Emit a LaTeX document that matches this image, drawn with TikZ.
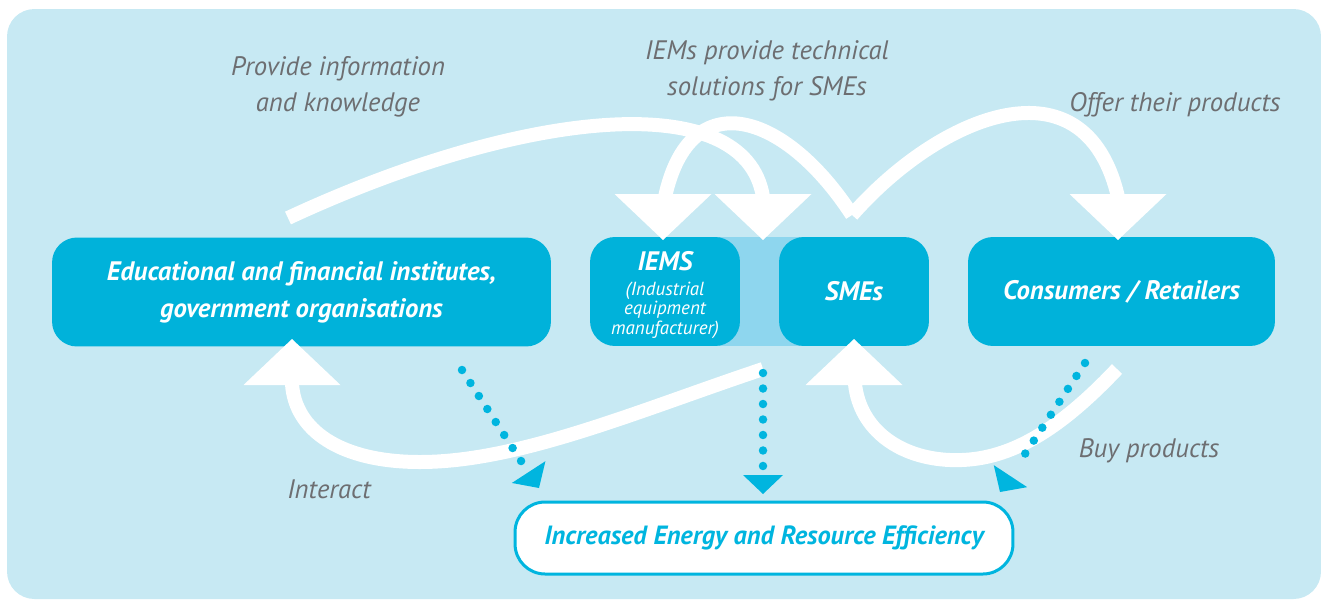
\documentclass[tikz,border=0pt]{standalone}
\usepackage{fontspec}
\setmainfont{PT Sans}
\usetikzlibrary{arrows.meta}
\definecolor{bgblue}{HTML}{C7E9F3}
\definecolor{boxblue}{HTML}{00B2DA}
\definecolor{bandblue}{HTML}{8ED6EE}
\definecolor{labgray}{HTML}{6D6E71}
\definecolor{effcyan}{HTML}{00B5DF}
\pgfdeclarelayer{bg}
\pgfsetlayers{bg,main}
\begin{document}
\begin{tikzpicture}[x=0.02cm,y=-0.02cm,
  mainbox/.style={fill=boxblue, rounded corners=0.5cm, minimum height=2.18cm, text=white,
    font=\fontsize{15.2}{21}\selectfont\bfseries\itshape, align=center, inner sep=0pt},
  boxtext/.style={text=white, font=\fontsize{15.2}{21}\selectfont\bfseries\itshape, align=center, inner sep=0pt},
  subtext/.style={text=white, font=\fontsize{10.8}{11.1}\selectfont\itshape, align=center, inner sep=0pt},
  lbl/.style={text=labgray, font=\fontsize{15.2}{20.5}\selectfont\itshape, align=center, inner sep=0pt},
  flow/.style={draw=white, line width=0.28cm},
  dots/.style={draw=effcyan, line width=0.17cm, line cap=round, dash pattern=on 0pt off 0.31cm},
  whead/.pic={\fill[white] (-48.5,-46) -- (48.5,-46) -- (0,0) -- cycle;},
  chead/.pic={\fill[effcyan] (-20,-19) -- (20,-19) -- (0,0) -- cycle;}
]
\useasboundingbox (0,0) rectangle (1321,599);

% boxes
\node[mainbox, minimum width=9.98cm] (edu) at (301.5,292) {Educational and financial institutes,\\government organisations};
\node[mainbox, minimum width=3cm] (iems) at (665,291.5) {};
\node[mainbox, minimum width=3cm] (smes) at (854,291.5) {SMEs};
\node[mainbox, minimum width=6.14cm] (cons) at (1121.5,291.5) {Consumers / Retailers};
\node[boxtext] (iemst) at (665,261) {IEMS};
\node[subtext] (iemss) at (665,310) {(Industrial\\equipment\\manufacturer)};

\begin{pgfonlayer}{bg}
\fill[bgblue, rounded corners=0.55cm] (7,9) rectangle (1321,599);
\fill[bandblue] (iems.north) rectangle (smes.south);
\end{pgfonlayer}

\node[draw=effcyan, line width=0.06cm, fill=white, rounded corners=0.6cm, minimum width=9.96cm,
  minimum height=1.44cm, text=effcyan, font=\fontsize{15}{21}\selectfont\bfseries\itshape, inner sep=0pt]
  (eff) at (764,538) {Increased Energy and Resource Efficiency};

% named points
\coordinate (s1) at (288,218);
\coordinate (v) at (852,215);
\coordinate (s4) at (763,369);
\coordinate (s5) at (1117,369);
\coordinate (b1) at (763,197);
\coordinate (b2) at (665,197);
\coordinate (b3) at (1118,197);
\coordinate (b4) at (292,384);
\coordinate (b5) at (855,384);

% white flows
\draw[flow] (s1) .. controls (520,110) and (745,85) .. (b1);
\draw[flow] (v) .. controls (785,112) and (690,82) .. (b2);
\draw[flow] (v) .. controls (940,115) and (1085,55) .. (b3);
\draw[flow] (s4) .. controls (640,410) and (520,462) .. (420,462) .. controls (340,462) and (295,430) .. (b4);
\draw[flow] (s5) .. controls (1050,440) and (1000,462) .. (950,460) .. controls (900,458) and (860,430) .. (b5);
\pic at (663,240) {whead};
\pic at (763,240) {whead};
\pic at (1118,240) {whead};
\pic[rotate=180] at (292,339) {whead};
\pic[rotate=180] at (854,339) {whead};

% dotted arrows
\coordinate (d1a) at (462,370); \coordinate (d1b) at (523,464);
\coordinate (d2a) at (763,373); \coordinate (d2b) at (763,467);
\coordinate (d3a) at (1085,363); \coordinate (d3b) at (1017,466);
\draw[dots] (d1a) -- (d1b);
\draw[dots] (d2a) -- (d2b);
\draw[dots] (d3a) -- (d3b);
\pic[rotate=33] at (539,488) {chead};
\pic at (763,494) {chead};
\pic[rotate=-33.4] at (1000,492) {chead};

% labels
\node[lbl] (l1) at (338,87) {Provide information\\and knowledge};
\node[lbl] (l2) at (767,71) {IEMs provide technical\\solutions for SMEs};
\node[lbl] (l3) at (1175,105) {Offer their products};
\node[lbl] (l4) at (329,489) {Interact};
\node[lbl] (l5) at (1149,451) {Buy products};
\end{tikzpicture}
\end{document}
